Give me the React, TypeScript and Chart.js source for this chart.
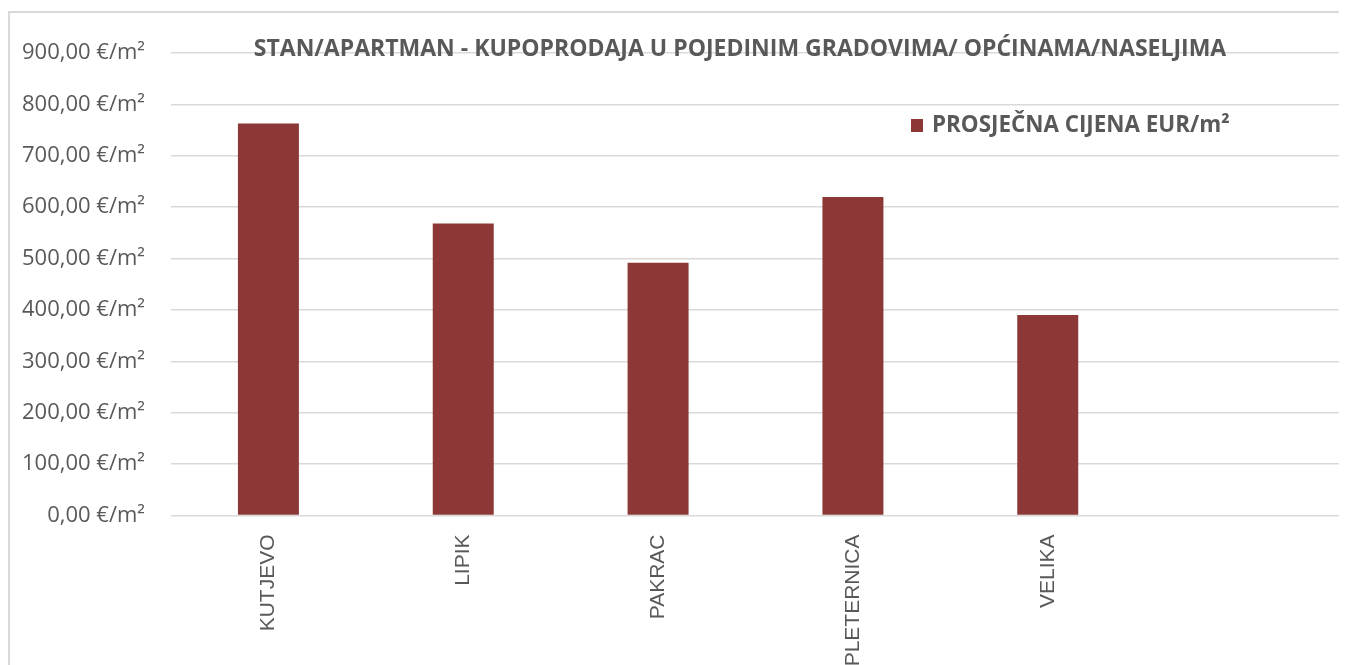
import React, { useEffect, useRef } from "react";
import { Chart, registerables } from "chart.js";

Chart.register(...registerables);

const categories = ["KUTJEVO", "LIPIK", "PAKRAC", "PLETERNICA", "VELIKA", ""];
const prices = [763, 568, 492, 620, 390, null];
const seriesLabel = "PROSJEČNA CIJENA EUR/m²";
const chartTitle = "STAN/APARTMAN - KUPOPRODAJA U POJEDINIM GRADOVIMA/ OPĆINAMA/NASELJIMA";
const yMin = 0;
const yMax = 900;
const yStep = 100;

const BAR_COLOR = "#8B3836";
const TEXT_COLOR = "#595959";
const GRID_COLOR = "#d9d9d9";

const overlayPlugin = {
  id: "overlay",
  afterDraw(chart: any) {
    const ctx = chart.ctx;
    const area = chart.chartArea;
    ctx.save();
    // title
    ctx.fillStyle = TEXT_COLOR;
    ctx.font = "bold 23px 'Open Sans'";
    ctx.textAlign = "center";
    ctx.textBaseline = "middle";
    ctx.fillText(chartTitle, 730, area.top - 4);
    // legend
    ctx.fillStyle = BAR_COLOR;
    ctx.fillRect(901, area.top + 66, 12, 13);
    ctx.fillStyle = TEXT_COLOR;
    ctx.textAlign = "left";
    ctx.font = "bold 22.4px 'Open Sans'";
    ctx.fillText(seriesLabel, 922, area.top + 73);
    ctx.restore();
  },
};

export default function App() {
  const ref = useRef<HTMLCanvasElement | null>(null);
  useEffect(() => {
    if (!ref.current) return;
    const chart = new Chart(ref.current, {
      type: "bar",
      data: {
        labels: categories,
        datasets: [
          {
            label: seriesLabel,
            data: prices,
            backgroundColor: BAR_COLOR,
            borderWidth: 0,
            categoryPercentage: 1,
            barPercentage: 0.313,
          },
        ],
      },
      options: {
        responsive: false,
        animation: false,
        layout: { padding: { top: 40, left: 0, right: 0, bottom: 0 } },
        plugins: {
          legend: { display: false },
          title: { display: false },
          tooltip: { enabled: false },
        },
        scales: {
          x: {
            grid: { display: false, drawTicks: false },
            border: { display: false },
            ticks: {
              maxRotation: 90,
              minRotation: 90,
              padding: 19,
              color: TEXT_COLOR,
              font: { family: "'Liberation Sans'", size: 21 },
              autoSkip: false,
            },
            afterFit(scale: any) {
              scale.height = 700 - 40 - 462.5;
            },
          },
          y: {
            min: yMin,
            max: yMax,
            grid: { color: GRID_COLOR, lineWidth: 1.5, drawTicks: false },
            border: { display: false },
            ticks: {
              stepSize: yStep,
              padding: 26,
              color: TEXT_COLOR,
              font: { family: "'Open Sans'", size: 22 },
              callback: (v: any) => Number(v).toFixed(2).replace(".", ",") + " €/m²",
            },
            afterFit(scale: any) {
              scale.width = 161;
            },
          },
        },
      },
      plugins: [overlayPlugin],
    });
    return () => chart.destroy();
  }, []);
  return (
    <div
      style={{
        position: "relative",
        top: 3,
        width: 1334,
        height: 704,
        boxSizing: "border-box",
        border: "2px solid #d9d9d9",
        background: "#fff",
      }}
    >
      <canvas ref={ref} width={1330} height={700} style={{ display: "block" }} />
    </div>
  );
}
